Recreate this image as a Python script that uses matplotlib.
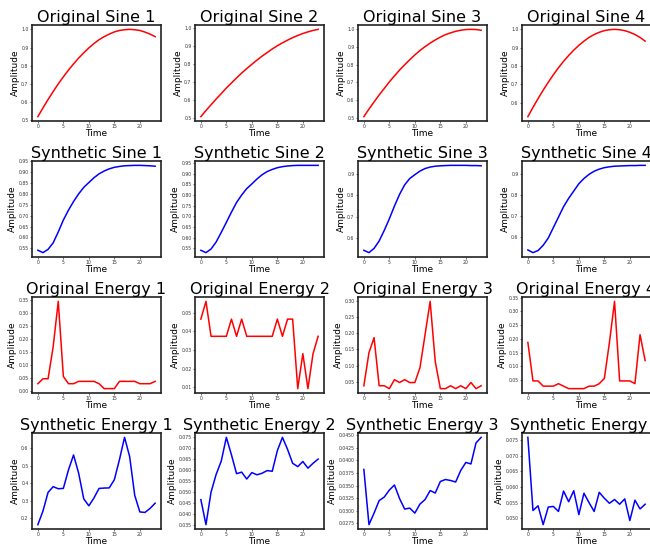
import matplotlib
matplotlib.use("Agg")
import matplotlib.pyplot as plt
import numpy as np

time = list(range(24))

orig_sine_1 = [0.520, 0.568, 0.614, 0.658, 0.700, 0.739, 0.776, 0.810, 0.842, 0.871, 0.898, 0.922,
               0.943, 0.960, 0.974, 0.986, 0.994, 0.998, 1.000, 0.998, 0.994, 0.985, 0.974, 0.960]
orig_sine_2 = [0.505, 0.539, 0.571, 0.603, 0.633, 0.664, 0.692, 0.720, 0.747, 0.772, 0.796, 0.819,
               0.841, 0.861, 0.881, 0.899, 0.915, 0.930, 0.944, 0.956, 0.967, 0.976, 0.984, 0.990]
orig_sine_3 = [0.505, 0.548, 0.588, 0.628, 0.665, 0.702, 0.736, 0.769, 0.799, 0.828, 0.855, 0.880,
               0.902, 0.922, 0.940, 0.956, 0.970, 0.980, 0.989, 0.995, 0.999, 1.000, 0.999, 0.995]
orig_sine_4 = [0.525, 0.575, 0.623, 0.669, 0.712, 0.753, 0.791, 0.826, 0.858, 0.887, 0.913, 0.936,
               0.956, 0.972, 0.984, 0.993, 0.998, 1.000, 0.998, 0.993, 0.984, 0.972, 0.956, 0.936]

syn_sine_1 = [0.541, 0.530, 0.545, 0.575, 0.625, 0.680, 0.725, 0.765, 0.800, 0.830, 0.852, 0.874,
              0.892, 0.905, 0.915, 0.922, 0.926, 0.929, 0.930, 0.931, 0.931, 0.930, 0.929, 0.927]
syn_sine_2 = [0.541, 0.530, 0.547, 0.580, 0.625, 0.672, 0.720, 0.765, 0.800, 0.830, 0.852, 0.875,
              0.895, 0.910, 0.920, 0.928, 0.933, 0.936, 0.938, 0.939, 0.939, 0.939, 0.939, 0.939]
syn_sine_3 = [0.541, 0.530, 0.550, 0.585, 0.635, 0.690, 0.750, 0.805, 0.850, 0.880, 0.898, 0.915,
              0.927, 0.934, 0.938, 0.940, 0.941, 0.942, 0.942, 0.942, 0.942, 0.941, 0.941, 0.940]
syn_sine_4 = [0.538, 0.525, 0.535, 0.560, 0.595, 0.645, 0.695, 0.745, 0.785, 0.820, 0.855, 0.880,
              0.900, 0.915, 0.925, 0.932, 0.936, 0.939, 0.940, 0.941, 0.942, 0.942, 0.943, 0.943]

orig_energy_1 = [0.028, 0.047, 0.047, 0.170, 0.345, 0.056, 0.028, 0.028, 0.037, 0.037, 0.037, 0.037,
                 0.028, 0.009, 0.009, 0.009, 0.037, 0.037, 0.037, 0.037, 0.028, 0.028, 0.028, 0.037]
orig_energy_2 = [0.0465, 0.0560, 0.0373, 0.0373, 0.0373, 0.0373, 0.0465, 0.0373, 0.0465, 0.0373, 0.0373, 0.0373,
                 0.0373, 0.0373, 0.0373, 0.0465, 0.0373, 0.0465, 0.0465, 0.0093, 0.0280, 0.0093, 0.0280, 0.0373]
orig_energy_3 = [0.037, 0.140, 0.187, 0.037, 0.037, 0.028, 0.056, 0.047, 0.056, 0.047, 0.047, 0.093,
                 0.196, 0.300, 0.112, 0.028, 0.028, 0.037, 0.028, 0.037, 0.028, 0.047, 0.028, 0.037]
orig_energy_4 = [0.187, 0.047, 0.047, 0.028, 0.028, 0.028, 0.037, 0.028, 0.019, 0.019, 0.019, 0.019,
                 0.028, 0.028, 0.037, 0.056, 0.187, 0.336, 0.047, 0.047, 0.047, 0.037, 0.215, 0.121]

syn_energy_1 = [0.162, 0.240, 0.347, 0.380, 0.368, 0.370, 0.476, 0.562, 0.457, 0.310, 0.270, 0.315,
                0.370, 0.372, 0.373, 0.420, 0.535, 0.663, 0.553, 0.330, 0.235, 0.232, 0.255, 0.285]
syn_energy_2 = [0.0466, 0.0353, 0.0500, 0.0580, 0.0640, 0.0747, 0.0668, 0.0583, 0.0590, 0.0559, 0.0588, 0.0578,
                0.0585, 0.0597, 0.0594, 0.0687, 0.0747, 0.0693, 0.0630, 0.0615, 0.0638, 0.0608, 0.0630, 0.0649]
syn_energy_3 = [0.0382, 0.0272, 0.0295, 0.0320, 0.0327, 0.0341, 0.0351, 0.0324, 0.0303, 0.0305, 0.0295, 0.0313,
                0.0322, 0.0340, 0.0335, 0.0358, 0.0362, 0.0360, 0.0357, 0.0380, 0.0396, 0.0393, 0.0435, 0.0446]
syn_energy_4 = [0.0758, 0.0525, 0.0540, 0.0480, 0.0536, 0.0538, 0.0522, 0.0587, 0.0553, 0.0588, 0.0512, 0.0580,
                0.0550, 0.0522, 0.0583, 0.0564, 0.0548, 0.0560, 0.0545, 0.0562, 0.0493, 0.0558, 0.0530, 0.0545]

rows = [
    ("Original Sine", [orig_sine_1, orig_sine_2, orig_sine_3, orig_sine_4], "red"),
    ("Synthetic Sine", [syn_sine_1, syn_sine_2, syn_sine_3, syn_sine_4], "blue"),
    ("Original Energy", [orig_energy_1, orig_energy_2, orig_energy_3, orig_energy_4], "red"),
    ("Synthetic Energy", [syn_energy_1, syn_energy_2, syn_energy_3, syn_energy_4], "blue"),
]

W, H = 650, 548
fig = plt.figure(figsize=(W / 100, H / 100), dpi=100)

col_left = [32, 195, 358, 522]
row_top = [25, 161, 297, 433]
ax_w, ax_h = 129, 96

for r, (name, series, color) in enumerate(rows):
    for c, vals in enumerate(series):
        left = col_left[c] / W
        bottom = 1 - (row_top[r] + ax_h) / H
        ax = fig.add_axes([left, bottom, ax_w / W, ax_h / H])
        ax.plot(time, vals, color=color, linewidth=1.1)
        ax.set_title(f"{name} {c + 1}", fontsize=11.5, pad=2)
        ax.set_xlabel("Time", fontsize=6.5, labelpad=0)
        ax.set_ylabel("Amplitude", fontsize=6.5, labelpad=1)
        ax.set_xticks([0, 5, 10, 15, 20])
        ax.tick_params(labelsize=3.3, length=1.5, width=0.5, pad=1, colors="#333333")
        for s in ax.spines.values():
            s.set_linewidth(1.2)
            s.set_color("#222222")

fig.savefig("out.png", dpi=100)
